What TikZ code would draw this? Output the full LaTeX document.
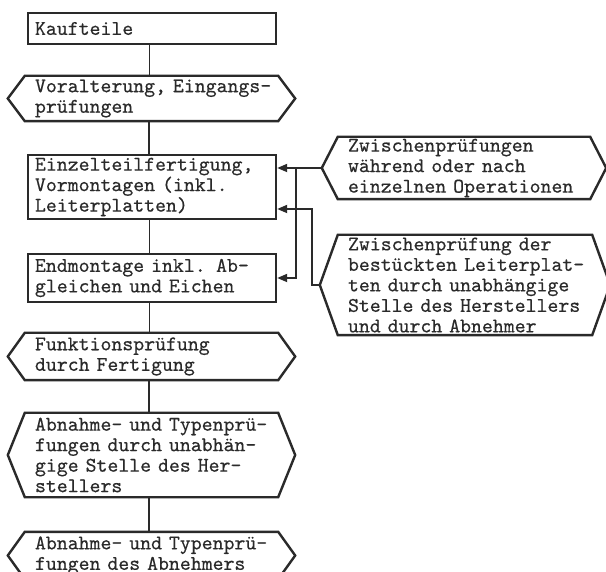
\documentclass[tikz,border=0pt]{standalone}
\usepackage{fontspec}
\usetikzlibrary{arrows.meta}
\newfontfamily\tw{lmmono10-regular}[Extension=.otf, FakeBold=0.4]
\definecolor{ink}{HTML}{2A2A2A}
\newcommand\lne[1]{\mbox{#1}}
\begin{document}
\begin{tikzpicture}[x=1pt,y=1pt,
  txt/.style={font=\tw\fontsize{20.8}{20.5}\selectfont, text=ink, align=left, inner ysep=0pt},
  rbox/.style={txt, draw=ink, line width=2.4pt, inner xsep=7pt, text width=234pt},
  lhex/.style={txt, inner xsep=27pt, text width=233pt},
  hexline/.style={draw=ink, line width=2.4pt, line join=miter},
  conn/.style={draw=ink, line width=1.8pt},
  arr/.style={conn, -{Triangle[length=10pt,width=8pt]}}
]
\useasboundingbox (0,0) rectangle (606,-572);
\fill[white] (0,0) rectangle (606,-572);

% left column
\node[rbox, minimum height=31pt] (kauf) at (152,-28.5) {\lne{Kaufteile}};
\node[lhex, minimum height=45pt] (volt) at (151.5,-98.5) {\lne{Voralterung, Eingangs-}\\\lne{prüfungen}};
\node[rbox, minimum height=64pt] (einzel) at (152,-187) {\lne{Einzelteilfertigung,}\\\lne{Vormontagen (inkl.}\\\lne{Leiterplatten)}};
\node[rbox, minimum height=48pt] (endm) at (152,-278) {\lne{Endmontage inkl. Ab-}\\\lne{gleichen und Eichen}};
\node[lhex, minimum height=47pt] (funk) at (151.5,-356.5) {\lne{Funktionsprüfung}\\\lne{durch Fertigung}};
\node[lhex, minimum height=84pt] (abn1) at (151.5,-455) {\lne{Abnahme- und Typenprü-}\\\lne{fungen durch unabhän-}\\\lne{gige Stelle des Her-}\\\lne{stellers}};
\node[lhex, minimum height=47pt] (abn2) at (151.5,-555.5) {\lne{Abnahme- und Typenprü-}\\\lne{fungen des Abnehmers}};

% right column
\node[txt, inner xsep=26pt, text width=232pt, minimum height=62pt] (zw1) at (464,-168) {\lne{Zwischenprüfungen}\\\lne{während oder nach}\\\lne{einzelnen Operationen}};
\node[txt, inner xsep=28pt, text width=234pt, minimum height=100pt] (zw2) at (465,-285) {\lne{Zwischenprüfung der}\\\lne{bestückten Leiterplat-}\\\lne{ten durch unabhängige}\\\lne{Stelle des Herstellers}\\\lne{und durch Abnehmer}};

% hexagon outlines
\foreach \n/\t in {volt/17,funk/17,abn1/17,abn2/17,zw1/16,zw2/18}
  \draw[hexline] (\n.west) -- ([xshift=\t pt]\n.north west) -- ([xshift=-\t pt]\n.north east)
    -- (\n.east) -- ([xshift=-\t pt]\n.south east) -- ([xshift=\t pt]\n.south west) -- cycle;

% main flow
\foreach \a/\b in {kauf/volt,volt/einzel,einzel/endm,endm/funk,funk/abn1,abn1/abn2}
  \draw[conn] ([xshift=-2.5pt]\a.south) -- ([xshift=-2.5pt]\a.south |- \b.north);

% side inputs
\draw[arr] (zw1.west) -- (zw1.west -| einzel.east);
\draw[arr] ([xshift=19pt]einzel.east |- zw1.west) |- (endm.east);
\draw[arr] (zw2.west) -- ++(-8,0) |- ([yshift=-22pt]einzel.east);
\end{tikzpicture}
\end{document}
